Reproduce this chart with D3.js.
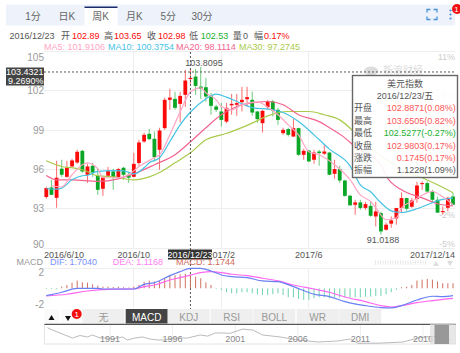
<!DOCTYPE html>
<html>
<head>
<meta charset="utf-8">
<script src="https://cdn.jsdelivr.net/npm/d3@7"></script>
<style>
    html, body { margin: 0; padding: 0; background: #fff; overflow: hidden; }
    svg { display: block; }
    text { font-family: "Liberation Sans", "Noto Sans CJK SC", sans-serif; font-size: 9px; }
</style>
</head>
<body>
<div id="viz"></div>
<script>
// weekly candles, 2016/6/10 -> 2017/12/14
const candle_open = [93.90,94.63,93.84,96.06,95.44,96.23,96.53,97.42,95.60,96.28,95.52,94.53,95.52,95.85,95.37,96.13,95.60,95.44,96.49,98.13,
    98.72,98.34,97.50,99.15,101.31,101.38,101.00,101.69,102.89,103.08,102.32,102.27,101.64,100.80,100.42,99.65,100.89,100.93,101.13,101.36,
    101.31,100.42,99.53,100.75,101.18,100.55,98.77,99.08,98.51,99.15,97.12,97.45,96.74,97.37,97.20,97.29,95.67,96.03,95.16,94.00,
    93.31,93.49,93.07,93.23,92.42,92.68,91.41,91.87,92.27,93.06,93.82,93.16,93.75,94.89,94.96,94.32,93.69,92.78,93.08,93.94];
const candle_high = [94.68,95.21,96.66,96.74,96.66,96.82,97.50,97.50,96.43,96.51,96.13,95.52,96.20,96.06,96.13,96.20,95.83,97.27,98.26,98.79,
    99.10,98.89,99.18,101.46,102.15,101.92,101.92,103.59,103.65,103.67,103.81,102.98,101.84,100.93,101.08,101.08,101.76,101.76,102.30,102.30,
    101.94,100.47,100.55,101.31,101.31,100.70,99.18,99.18,99.86,99.18,97.58,97.47,97.50,97.50,97.88,97.35,96.74,96.28,95.21,94.07,
    93.69,93.69,93.53,93.53,93.53,92.78,91.95,92.42,93.08,94.25,93.84,93.84,95.06,95.09,95.09,94.45,93.92,93.18,93.92,94.22];
const candle_low = [93.77,94.03,93.08,95.44,95.37,96.20,96.43,95.75,94.98,95.44,94.07,93.99,95.44,94.45,95.29,95.21,94.98,95.40,96.28,98.03,
    98.26,96.61,95.98,99.02,100.55,100.55,99.58,100.77,102.53,101.69,101.38,101.18,100.17,100.39,99.27,99.52,100.17,100.09,100.42,100.77,
    100.09,99.56,98.82,100.55,100.04,99.40,98.64,98.51,98.49,97.04,96.74,96.58,96.43,96.28,97.12,95.56,95.29,94.98,93.92,93.23,
    92.55,92.93,92.93,92.40,91.66,91.02,91.33,91.56,91.79,92.68,92.85,93.08,93.46,94.45,94.22,93.46,92.70,92.55,92.80,93.29];
const candle_close = [94.58,94.07,95.37,95.60,96.13,96.69,97.35,95.85,96.23,95.77,94.45,95.39,95.90,95.42,96.03,95.60,95.37,96.43,98.06,98.64,
    98.31,96.94,98.97,101.31,101.48,100.70,101.61,102.78,102.98,102.37,102.15,101.56,100.85,100.55,99.78,100.70,101.00,101.06,101.31,101.51,
    100.34,99.84,100.47,101.18,100.49,99.78,99.02,98.64,99.15,97.12,97.42,96.61,97.29,97.25,97.37,95.60,96.03,95.16,93.99,93.27,
    93.49,93.07,93.36,92.47,92.80,91.28,91.79,92.12,93.06,93.82,93.01,93.64,94.78,94.96,94.32,93.69,92.71,92.83,93.84,93.31];

// moving averages, read at the bars where they bend
const ma5_idx = [1,3,5,7,8,10,11,14,16,18,21,22,24,26,28,30,31,33,34,36,38,41,43,45,47,49,51,53,56,59,61,63,64,66,68,69,71,74,75,77,79];
const ma5_val = [94.76,94.68,95.60,96.36,96.51,96.05,95.37,95.37,95.60,96.23,96.89,97.12,98.64,100.39,101.91,102.22,101.84,101.31,100.80,100.55,100.93,101.16,100.77,100.17,99.40,98.64,97.35,97.12,96.36,95.22,94.07,93.56,93.08,92.17,92.32,93.08,93.56,94.22,94.32,93.92,93.31];
const ma10_idx = [0,2,3,5,7,8,10,13,15,17,19,20,22,24,26,28,31,33,35,37,40,44,46,49,52,55,59,61,63,65,67,69,72,74,76,79];
const ma10_val = [94.53,94.51,94.58,95.21,95.52,95.56,95.85,95.92,95.90,95.67,96.13,96.51,96.89,98.13,99.40,100.38,101.38,101.74,101.51,101.18,100.72,100.55,100.34,99.65,98.64,97.55,96.28,94.83,94.30,93.46,92.85,92.72,93.01,93.31,93.62,93.84];
const ma20_idx = [0,2,5,10,14,17,21,25,28,31,34,37,41,43,46,49,53,55,58,60,65,66,69,73,76,79];
const ma20_val = [95.54,95.21,95.21,95.09,95.29,95.67,96.36,97.12,98.11,99.18,100.17,100.80,101.13,101.18,100.93,100.17,99.65,99.18,98.41,97.73,96.36,95.52,94.45,93.84,93.39,93.23];
const ma30_idx = [0,3,5,7,10,13,17,20,22,25,28,31,34,36,40,43,47,51,54,57,60,63,67,70,73,76,79];
const ma30_val = [96.66,96.23,96.13,95.98,95.52,95.44,95.21,95.44,95.77,96.51,97.27,98.26,98.64,98.89,99.53,100.09,100.42,100.42,100.17,99.78,98.79,97.65,96.51,95.82,95.37,94.83,94.22];

// MACD panel
const macd_val = [-0.06,-0.08,-0.08,0.14,0.28,0.48,0.66,0.51,0.48,0.34,0.23,0.14,0.14,0.11,0.14,0.09,0.06,0.14,0.28,0.54,
    0.66,0.57,0.60,0.86,1.08,1.11,1.20,1.23,1.17,1.00,0.86,0.51,0.28,-0.06,-0.14,-0.34,-0.43,-0.43,-0.34,-0.34,
    -0.43,-0.51,-0.57,-0.57,-0.51,-0.43,-0.57,-0.77,-0.77,-0.91,-1.00,-1.00,-0.85,-0.77,-0.77,-0.85,-0.77,-0.80,-0.77,-0.80,
    -0.77,-0.77,-0.71,-0.71,-0.66,-0.66,-0.51,-0.34,-0.14,0.09,0.14,0.28,0.66,0.74,0.80,0.74,0.57,0.43,0.43,0.43];
const dif_idx = [0,3,6,10,11,17,19,21,24,26,28,30,32,34,36,39,42,45,48,52,55,58,62,65,67,69,72,75,77,79];
const dif_val = [-0.63,-0.34,0,0,-0.06,-0.06,0.34,0.48,1.08,1.43,1.70,1.71,1.48,1.14,1.00,0.91,0.63,0.57,0.14,-0.51,-0.71,-1.14,-1.48,-1.65,-1.68,-1.48,-1.00,-0.68,-0.71,-0.63];
const dea_idx = [0,4,8,12,17,19,21,24,26,28,30,32,34,36,39,42,45,48,52,55,58,62,65,67,69,72,75,77,79];
const dea_val = [-0.66,-0.51,-0.23,-0.09,-0.06,0.14,0.28,0.71,0.91,1.12,1.34,1.43,1.34,1.20,1.08,0.86,0.63,0.28,-0.06,-0.34,-0.74,-1.14,-1.48,-1.60,-1.48,-1.23,-1.05,-0.94,-0.86];

// navigator overview
const nav_year = [1986,1986.4,1987,1987.6,1988,1988.6,1989.2,1989.6,1990.2,1990.8,1991.2,1992,1992.4,1993,1993.6,1994.2,1994.8,1995.4,1996,1997.2,1998.2,1998.8,1999.4,2000,2000.6,2001.6,2002.4,2003.2,2004.6,2006,2007.6,2009.2,2010.2,2010.8,2012.6,2014.4,2015.6,2016.4,2017.2,2018.2];
const nav_val = [125.7,117.9,107.6,97.4,90.5,99,94,100.8,90.5,90.5,87,94,83.7,90.5,94,87,83.7,83.7,90.5,90.5,100.8,97,107.6,107.6,106.6,121,117.9,100.8,94,83.7,76.8,80.3,87,72.4,73,76.8,90.5,95,95,83.7];
const nav_ticks = [1991,1996,2001,2006,2011,2016];

// axes and labels
const price_ticks = [105,102,99,96,93,90];
const pct_prices = [105,102,93,90];
const pct_ticks = ["11%","8%","-2%","-5%"];
const x_tick_index = [0,17,34,51,79];
const x_tick_labels = ["2016/6/10","2016/10","2017/2","2017/6","2017/12/14"];
const macd_ticks = [2,-2];
const period_tabs = ["1分","日K","周K","月K","5分","30分"];
const indicator_tabs = ["无","MACD","KDJ","RSI","BOLL","WR","DMI"];
const tooltip_labels = ["开盘","最高","最低","收盘","涨跌","振幅"];
const tooltip_values = ["102.8871(0.08%)","103.6505(0.82%)","102.5277(-0.27%)","102.9803(0.17%)","0.1745(0.17%)","1.1228(1.09%)"];

const selected = 28;
const cross_price = 103.4321;
const grey_text = "#999";
const red = "#fb0a0a", green = "#0aa626";

const svg = d3.select("#viz").append("svg").attr("width", 460).attr("height", 353);

const x = d3.scaleLinear().domain([0, 79]).range([46.3, 453]);
const y = d3.scaleLinear().domain([90, 105]).range([248.2, 51.4]);
const y_macd = d3.scaleLinear().domain([-2, 2]).range([311.7, 264.9]);
const x_nav = d3.scaleLinear().domain([1991, 2016]).range([110, 423]);
const y_nav = d3.scaleLinear().domain([70, 135]).range([344, 325]);

function text(parent, tx, ty, str, color, anchor, size) {
    return parent.append("text")
        .attr("x", tx)
        .attr("y", ty)
        .attr("dy", "0.35em")
        .attr("fill", color)
        .attr("text-anchor", anchor || "start")
        .style("font-size", (size || 9) + "px")
        .text(str);
}

// header
svg.append("rect").attr("x", 6).attr("y", 4.5).attr("width", 449).attr("height", 21).attr("fill", "#eef3fb");
svg.append("rect").attr("x", 84.5).attr("y", 7).attr("width", 33).attr("height", 18.5).attr("fill", "#fff");
svg.append("rect").attr("x", 84.5).attr("y", 6.5).attr("width", 33).attr("height", 1.5).attr("fill", "#1a2a6c");
period_tabs.forEach((d, i) => text(svg, 33 + i * 33.8, 16, d, "#666", "middle", 10));

// fullscreen corners and menu dots
const icon = svg.append("g").attr("stroke", "#4a90d9").attr("stroke-width", 1.3).attr("fill", "none");
["M427,12.5V9.5H430.5", "M433.5,9.5H437V12.5", "M427,16.5V19.5H430.5", "M433.5,19.5H437V16.5"].forEach(d => icon.append("path").attr("d", d));
[10.5, 14.5, 18.5].forEach(d => svg.append("circle").attr("cx", 450.5).attr("cy", d).attr("r", 1.1).attr("fill", "#4a90d9"));
svg.append("circle").attr("cx", 457).attr("cy", 9).attr("r", 5).attr("fill", "#f01010");
text(svg, 456.5, 9, "1", "#fff", "middle", 8);

// quote line
const quote = [[9.5,"2016/12/23","#555"],[61,"开","#555"],[72,"102.89",red],[104,"高","#555"],[114,"103.65",red],[147,"收","#555"],[158,"102.98",red],
    [189,"低","#555"],[200.7,"102.53","#22b030"],[232.7,"量","#555"],[243,"0","#555"],[254,"幅","#555"],[264,"0.17%",red]];
quote.forEach(d => text(svg, d[0], 36, d[1], d[2]));

const ma_colors = {ma5: "#ffa6c4", ma10: "#45c3e6", ma20: "#f2648f", ma30: "#a9cb4a"};
text(svg, 44, 46.5, "MA5: 101.9106", ma_colors.ma5);
text(svg, 108, 46.5, "MA10: 100.3754", ma_colors.ma10);
text(svg, 176, 46.5, "MA20: 98.1114", ma_colors.ma20);
text(svg, 239, 46.5, "MA30: 97.2745", ma_colors.ma30);

// grid
const grid = svg.append("g").attr("stroke", "#eee").attr("stroke-width", 1).attr("shape-rendering", "crispEdges");
grid.selectAll("line.h").data(price_ticks).join("line")
    .attr("class", "h")
    .attr("x1", 44).attr("x2", 455)
    .attr("y1", d => y(d)).attr("y2", d => y(d));
grid.selectAll("line.v").data(x_tick_index.slice(1, 4)).join("line")
    .attr("class", "v")
    .attr("x1", d => x(d)).attr("x2", d => x(d))
    .attr("y1", 52).attr("y2", 248);
grid.selectAll("line.m").data(x_tick_index.slice(1, 4)).join("line")
    .attr("class", "m")
    .attr("x1", d => x(d)).attr("x2", d => x(d))
    .attr("y1", 268).attr("y2", 308);
grid.append("line").attr("x1", 44).attr("x2", 455).attr("y1", 268).attr("y2", 268);

// y labels, top and bottom ones are pushed inside the plot
svg.selectAll("text.price").data(price_ticks).join("text")
    .attr("class", "price")
    .attr("x", 44)
    .attr("y", d => Math.min(Math.max(y(d), 57), 244))
    .attr("dy", "0.35em")
    .attr("text-anchor", "end")
    .attr("fill", grey_text)
    .style("font-size", "10px")
    .text(d => d);
svg.selectAll("text.pct").data(pct_ticks).join("text")
    .attr("class", "pct")
    .attr("x", 455)
    .attr("y", (d, i) => Math.min(Math.max(y(pct_prices[i]), 57), 244) + (d == "-2%" ? 6 : (d == "8%" ? 5 : 0)))
    .attr("dy", "0.35em")
    .attr("text-anchor", "end")
    .attr("fill", "#ccc")
    .style("font-size", "9px")
    .text(d => d);

// watermark
svg.append("ellipse").attr("cx", 371).attr("cy", 71).attr("rx", 7).attr("ry", 4.5).attr("fill", "#ddd");
text(svg, 383, 70.5, "新浪财经", "#ddd", "start", 10);

// candles
const candles = svg.append("g").selectAll("g").data(candle_open).join("g");
const candle_color = (o, i) => candle_close[i] >= o ? red : green;
candles.append("line")
    .attr("x1", (d, i) => x(i)).attr("x2", (d, i) => x(i))
    .attr("y1", (d, i) => y(candle_high[i]))
    .attr("y2", (d, i) => y(candle_low[i]))
    .attr("stroke", candle_color)
    .attr("stroke-opacity", 0.6)
    .attr("stroke-width", 1);
candles.append("rect")
    .attr("x", (d, i) => x(i) - 1.9)
    .attr("width", 3.8)
    .attr("y", (d, i) => y(Math.max(d, candle_close[i])))
    .attr("height", (d, i) => Math.max(1, Math.abs(y(d) - y(candle_close[i]))))
    .attr("fill", candle_color);

// moving average lines
function knotLine(idx, val, yscale) {
    return d3.line()
        .x(d => x(d))
        .y((d, i) => yscale(val[i]))
        .curve(d3.curveMonotoneX)(idx);
}
[[ma30_idx, ma30_val, ma_colors.ma30], [ma20_idx, ma20_val, ma_colors.ma20], [ma10_idx, ma10_val, ma_colors.ma10], [ma5_idx, ma5_val, ma_colors.ma5]].forEach(d => {
    svg.append("path")
        .attr("d", knotLine(d[0], d[1], y))
        .attr("fill", "none")
        .attr("stroke", d[2])
        .attr("stroke-width", 1.2);
});

// crosshair
svg.append("line").attr("x1", 44).attr("x2", 455).attr("y1", y(cross_price)).attr("y2", y(cross_price))
    .attr("stroke", "#555").attr("stroke-dasharray", "2,2");
svg.append("line").attr("x1", x(selected)).attr("x2", x(selected)).attr("y1", 52).attr("y2", 309)
    .attr("stroke", "#555").attr("stroke-dasharray", "2,2");
svg.append("rect").attr("x", 6).attr("y", 67.5).attr("width", 38).attr("height", 18).attr("fill", "#444");
text(svg, 43.5, 72.3, "103.4321", "#fff", "end", 9);
text(svg, 43.5, 81, "9.2690%", "#fff", "end", 9);

text(svg, 204, 62.5, "103.8095", "#555", "middle", 9);
text(svg, 383, 240, "91.0188", "#555", "middle", 9);

// x labels
x_tick_labels.forEach((d, i) => {
    if (i == 0) text(svg, 44, 254.5, d, "#555");
    else if (i == x_tick_labels.length - 1) text(svg, 455, 254.5, d, "#555", "end");
    else text(svg, x(x_tick_index[i]), 254.5, d, "#555", "middle");
});
svg.append("rect").attr("x", 168).attr("y", 249.5).attr("width", 44).attr("height", 10).attr("fill", "#333");
text(svg, 190, 254.5, "2016/12/23", "#fff", "middle", 9);

// MACD panel
text(svg, 43, 262, "MACD", grey_text, "end");
text(svg, 50, 262, "DIF: 1.7040", "#7a90ff");
text(svg, 112.7, 262, "DEA: 1.1168", "#ff80f5");
text(svg, 176, 262, "MACD: 1.1744", "#cf6a5a");
macd_ticks.forEach(d => text(svg, 44, d > 0 ? 272.7 : 304, d, grey_text, "end", 10));

svg.append("g").selectAll("line").data(macd_val).join("line")
    .attr("x1", (d, i) => x(i)).attr("x2", (d, i) => x(i))
    .attr("y1", y_macd(0))
    .attr("y2", d => y_macd(d))
    .attr("stroke", d => d >= 0 ? "#d0705f" : "#6fd3ae")
    .attr("stroke-width", 1);
svg.append("path").attr("d", knotLine(dea_idx, dea_val, y_macd)).attr("fill", "none").attr("stroke", "#ff66f0").attr("stroke-width", 1.2);
svg.append("path").attr("d", knotLine(dif_idx, dif_val, y_macd)).attr("fill", "none").attr("stroke", "#6a80f5").attr("stroke-width", 1.2);

// faded toolbar top right of the MACD panel
[261, 262.5, 264].forEach(d => svg.append("line").attr("x1", 375).attr("x2", 427).attr("y1", d).attr("y2", d)
    .attr("stroke", "#ddd").attr("stroke-dasharray", "1,1.5"));
svg.append("path").attr("d", "M433,266L436,261L439,266Z").attr("fill", "#ddd");
svg.append("path").attr("d", "M447,261L453,261L450,266Z").attr("fill", "#ddd");

// indicator tabs
const tab_x = [82.5, 125.7, 167.7, 210.7, 253.3, 296.7, 339.2];
svg.append("rect").attr("x", 44.5).attr("y", 309).attr("width", 37.5).attr("height", 14.5).attr("fill", "#fafafa");
svg.append("rect").attr("x", 59.5).attr("y", 309).attr("width", 2).attr("height", 14.5).attr("fill", "#fff");
svg.append("path").attr("d", "M48.5,320L51.5,315L54.5,320Z").attr("fill", "#111");
svg.append("path").attr("d", "M65,316L71,316L68,321Z").attr("fill", "#111");
indicator_tabs.forEach((d, i) => {
    svg.append("rect").attr("x", tab_x[i]).attr("y", 309).attr("width", 42).attr("height", 14.5)
        .attr("fill", d == "MACD" ? "#444" : "#efefef");
    text(svg, tab_x[i] + 21, 317, d, d == "MACD" ? "#fff" : grey_text, "middle", 10);
});
svg.append("circle").attr("cx", 76.7).attr("cy", 314).attr("r", 5).attr("fill", "#f01010");
text(svg, 76.7, 314, "1", "#fff", "middle", 8);

// navigator
svg.append("rect").attr("x", 44.5).attr("y", 324.5).attr("width", 411).attr("height", 19.5).attr("fill", "#fff").attr("stroke", "#e4e4e4");
svg.append("line").attr("x1", 44.5).attr("x2", 455.5).attr("y1", 324.3).attr("y2", 324.3).attr("stroke", "#555").attr("stroke-width", 1.2);
svg.selectAll("line.nav").data(nav_ticks).join("line")
    .attr("class", "nav")
    .attr("x1", d => x_nav(d)).attr("x2", d => x_nav(d))
    .attr("y1", 325).attr("y2", 344)
    .attr("stroke", "#eee");
svg.append("path")
    .attr("d", d3.line().x(d => x_nav(d)).y((d, i) => y_nav(nav_val[i]))(nav_year))
    .attr("fill", "none").attr("stroke", "#aaa").attr("stroke-width", 0.8);
nav_ticks.forEach(d => text(svg, x_nav(d), 339, d, "#888", "middle", 9));
svg.append("rect").attr("x", 430).attr("y", 324).attr("width", 25).attr("height", 20).attr("fill", "#ddd").attr("fill-opacity", 0.7);
svg.append("rect").attr("x", 434.5).attr("y", 325).attr("width", 14.5).attr("height", 19).attr("fill", "#8f8f8f").attr("fill-opacity", 0.9);

// tooltip
const tip = svg.append("g");
tip.append("rect").attr("x", 352.5).attr("y", 75.5).attr("width", 105).attr("height", 102)
    .attr("fill", "#fff").attr("fill-opacity", 0.9).attr("stroke", "#666").attr("stroke-width", 1.4);
text(tip, 405, 83.7, "美元指数", "#555", "middle");
text(tip, 405, 95.7, "2016/12/23/五", "#555", "middle");
tooltip_labels.forEach((d, i) => {
    const row_y = 108.3 + i * 12.35;
    const color = i == 2 ? "#22b030" : (i == 5 ? "#555" : "#f55");
    text(tip, 354, row_y, d, "#555");
    text(tip, 455.7, row_y, tooltip_values[i], color, "end");
});
</script>
</body>
</html>
